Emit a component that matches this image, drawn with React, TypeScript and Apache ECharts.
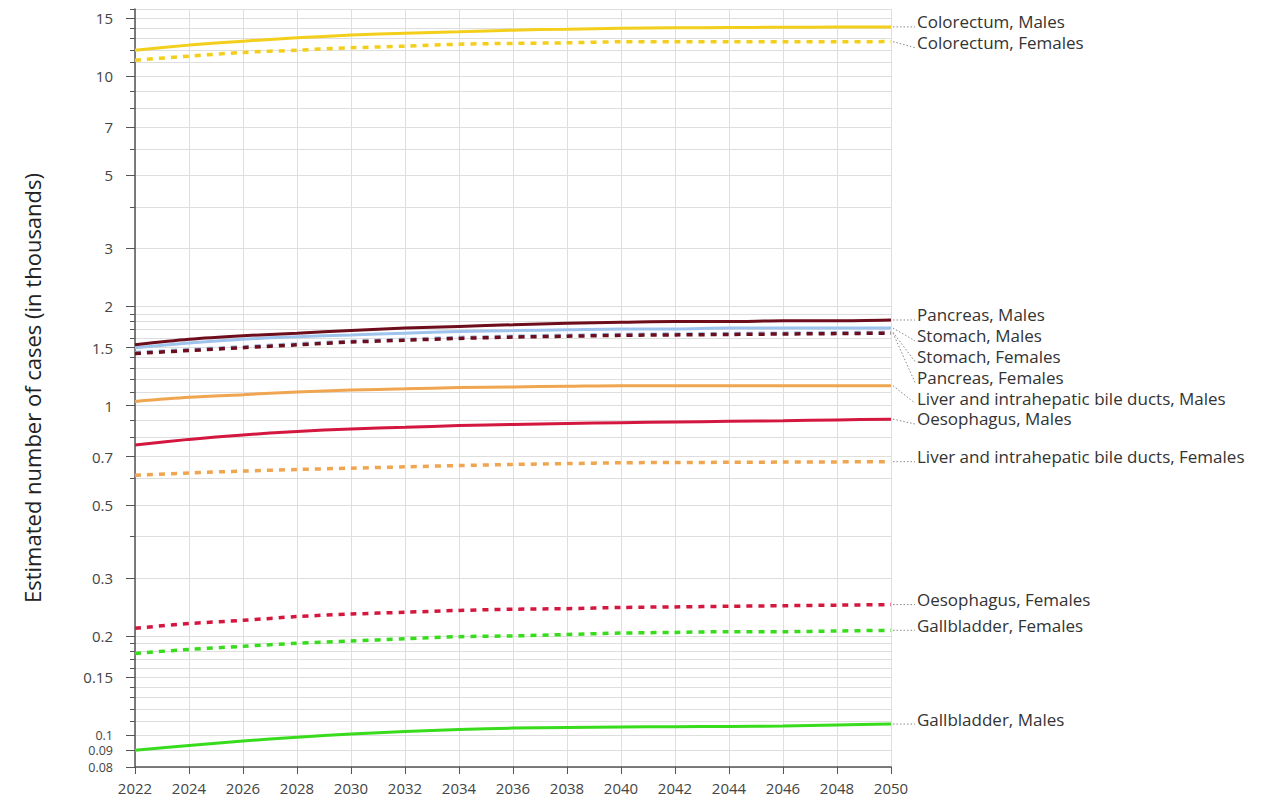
import React, { useEffect, useRef } from 'react';
import * as echarts from 'echarts';

const years = [2022, 2024, 2026, 2028, 2030, 2032, 2034, 2036, 2038, 2040, 2042, 2044, 2046, 2048, 2050];

const colorectumMales = [12.0, 12.43, 12.78, 13.08, 13.33, 13.51, 13.64, 13.8, 13.9, 13.99, 14.03, 14.06, 14.08, 14.1, 14.12];
const colorectumFemales = [11.19, 11.51, 11.81, 12.0, 12.2, 12.34, 12.51, 12.58, 12.63, 12.72, 12.72, 12.72, 12.73, 12.73, 12.74];
const pancreasMales = [1.53, 1.59, 1.63, 1.66, 1.69, 1.72, 1.74, 1.76, 1.78, 1.79, 1.8, 1.8, 1.81, 1.81, 1.82];
const stomachMales = [1.5, 1.55, 1.59, 1.62, 1.64, 1.66, 1.68, 1.69, 1.7, 1.71, 1.71, 1.72, 1.72, 1.72, 1.72];
const stomachFemales = [1.45, 1.48, 1.51, 1.54, 1.57, 1.59, 1.61, 1.625, 1.635, 1.645, 1.65, 1.655, 1.66, 1.665, 1.67];
const pancreasFemales = [1.44, 1.47, 1.5, 1.53, 1.56, 1.58, 1.6, 1.615, 1.625, 1.635, 1.64, 1.645, 1.65, 1.655, 1.66];
const liverMales = [1.03, 1.06, 1.08, 1.1, 1.115, 1.125, 1.135, 1.14, 1.145, 1.15, 1.15, 1.15, 1.15, 1.15, 1.15];
const oesophagusMales = [0.76, 0.79, 0.815, 0.835, 0.85, 0.86, 0.87, 0.877, 0.883, 0.888, 0.892, 0.896, 0.9, 0.905, 0.91];
const liverFemales = [0.615, 0.625, 0.633, 0.64, 0.646, 0.652, 0.658, 0.663, 0.667, 0.671, 0.672, 0.673, 0.674, 0.675, 0.676];
const oesophagusFemales = [0.211, 0.218, 0.223, 0.229, 0.233, 0.236, 0.239, 0.241, 0.242, 0.244, 0.245, 0.246, 0.247, 0.248, 0.249];
const gallbladderFemales = [0.177, 0.182, 0.186, 0.19, 0.193, 0.196, 0.199, 0.2, 0.202, 0.204, 0.205, 0.206, 0.206, 0.207, 0.208];
const gallbladderMales = [0.09, 0.093, 0.096, 0.0985, 0.1008, 0.1025, 0.104, 0.105, 0.1055, 0.1058, 0.106, 0.1062, 0.1066, 0.1073, 0.108];

const labelledTicks = [0.08, 0.09, 0.1, 0.15, 0.2, 0.3, 0.5, 0.7, 1, 1.5, 2, 3, 5, 7, 10, 15];
const crowdedTicks = [0.08, 0.09, 0.1];
const gridTicks = [
  0.08, 0.09, 0.1, 0.11, 0.12, 0.13, 0.14, 0.15, 0.16, 0.17, 0.18, 0.19, 0.2,
  0.3, 0.4, 0.5, 0.6, 0.7, 0.8, 0.9, 1,
  1.1, 1.2, 1.3, 1.4, 1.5, 1.6, 1.7, 1.8, 1.9, 2,
  3, 4, 5, 6, 7, 8, 9, 10, 11, 12, 13, 14, 15, 16,
];

const YELLOW = '#f3cf1c';
const MAROON = '#6e0d1c';
const BLUE = '#9ec4ee';
const CRIMSON = '#d4173f';
const ORANGE = '#f0a550';
const GREEN = '#38dc1c';

const seriesDefs = [
  { name: 'Colorectum, Males', data: colorectumMales, color: YELLOW, dashed: false },
  { name: 'Colorectum, Females', data: colorectumFemales, color: YELLOW, dashed: true },
  { name: 'Stomach, Females', data: stomachFemales, color: BLUE, dashed: true },
  { name: 'Stomach, Males', data: stomachMales, color: BLUE, dashed: false },
  { name: 'Pancreas, Females', data: pancreasFemales, color: MAROON, dashed: true },
  { name: 'Pancreas, Males', data: pancreasMales, color: MAROON, dashed: false },
  { name: 'Liver and intrahepatic bile ducts, Males', data: liverMales, color: ORANGE, dashed: false },
  { name: 'Oesophagus, Males', data: oesophagusMales, color: CRIMSON, dashed: false },
  { name: 'Liver and intrahepatic bile ducts, Females', data: liverFemales, color: ORANGE, dashed: true },
  { name: 'Oesophagus, Females', data: oesophagusFemales, color: CRIMSON, dashed: true },
  { name: 'Gallbladder, Females', data: gallbladderFemales, color: GREEN, dashed: true },
  { name: 'Gallbladder, Males', data: gallbladderMales, color: GREEN, dashed: false },
];

const FONT = '"Open Sans", "Noto Sans", sans-serif';

export default function App() {
  const ref = useRef<HTMLDivElement>(null);

  useEffect(() => {
    if (!ref.current) return;
    const chart = echarts.init(ref.current, undefined, { renderer: 'svg' });

    const lineSeries = seriesDefs.map((s) => ({
      type: 'line',
      name: s.name,
      data: years.map((y, i) => [y, s.data[i]]),
      xAxisIndex: 0,
      yAxisIndex: 0,
      smooth: 0.3,
      showSymbol: false,
      symbol: 'none',
      lineStyle: {
        color: s.color,
        width: s.dashed ? 3.5 : 3,
        type: s.dashed ? [6, 6] : 'solid',
      },
      itemStyle: { color: s.color },
      silent: true,
    }));

    const labelSeries = {
      type: 'custom',
      coordinateSystem: 'cartesian2d',
      xAxisIndex: 0,
      yAxisIndex: 0,
      silent: true,
      clip: false,
      data: [[years[years.length - 1], 1]],
      renderItem: (_params: any, api: any) => {
        const lastYear = years[years.length - 1];
        const ends = seriesDefs.map((s) => {
          const p = api.coord([lastYear, s.data[s.data.length - 1]]);
          return { name: s.name, x: p[0], y: p[1] };
        });
        ends.sort((a, b) => a.y - b.y);
        const gap = 20.8;
        let prev = -Infinity;
        const children: any[] = [];
        ends.forEach((e) => {
          const c = Math.max(e.y - 5, prev + gap);
          prev = c;
          children.push({
            type: 'polyline',
            shape: { points: [[e.x + 2, e.y], [e.x + 24, c + 5]] },
            style: { stroke: '#8a8a8a', lineWidth: 1, lineDash: [1.5, 2], fill: null },
          });
          children.push({
            type: 'text',
            style: {
              x: e.x + 26,
              y: c,
              text: e.name,
              fill: '#333',
              fontSize: 17,
              fontFamily: FONT,
              align: 'left',
              verticalAlign: 'middle',
            },
          });
        });
        return { type: 'group', children };
      },
    };

    const fmt = (v: number) => {
      const s = String(Number(Number(v).toPrecision(6)));
      return crowdedTicks.some((t) => Math.abs(t - v) < 1e-9) ? `{s|${s}}` : s;
    };

    chart.setOption({
      animation: false,
      backgroundColor: '#ffffff',
      grid: { left: 135, right: 395, top: 9, bottom: 35, containLabel: false },
      xAxis: {
        type: 'value',
        min: 2022,
        max: 2050,
        interval: 2,
        axisLine: { show: true, lineStyle: { color: '#555', width: 1.5 } },
        axisTick: { show: true, length: 7, lineStyle: { color: '#555' } },
        axisLabel: { color: '#444', fontSize: 15, fontFamily: FONT, margin: 13, formatter: (v: number) => String(v) },
        splitLine: { show: true, lineStyle: { color: '#dedede', width: 1 } },
      },
      yAxis: [
        {
          type: 'log',
          logBase: 10,
          min: 0.08,
          max: 16,
          position: 'left',
          name: 'Estimated number of cases (in thousands)',
          nameLocation: 'middle',
          nameGap: 92,
          nameTextStyle: { color: '#222', fontSize: 22, fontFamily: FONT },
          axisLine: { show: true, lineStyle: { color: '#555', width: 1.5 } },
          axisTick: { show: true, length: 9, customValues: labelledTicks, lineStyle: { color: '#555' } },
          axisLabel: {
            customValues: labelledTicks,
            formatter: fmt,
            color: '#444',
            fontSize: 15,
            fontFamily: FONT,
            margin: 22,
            hideOverlap: false,
            rich: {
              s: { fontSize: 12.5, lineHeight: 13, color: '#444', fontFamily: FONT },
            },
          },
          splitLine: { show: false },
        },
        {
          type: 'log',
          logBase: 10,
          min: 0.08,
          max: 16,
          position: 'left',
          axisLine: { show: false },
          axisTick: { show: true, length: 5, customValues: gridTicks, lineStyle: { color: '#555' } },
          axisLabel: { show: false },
          splitLine: { show: true, lineStyle: { color: '#dedede', width: 1 } },
        },
      ],
      series: [...lineSeries, labelSeries],
    });

    return () => chart.dispose();
  }, []);

  return (
    <div
      ref={ref}
      style={{ position: 'fixed', left: 0, top: 0, width: 1286, height: 802, background: '#fff' }}
    />
  );
}
